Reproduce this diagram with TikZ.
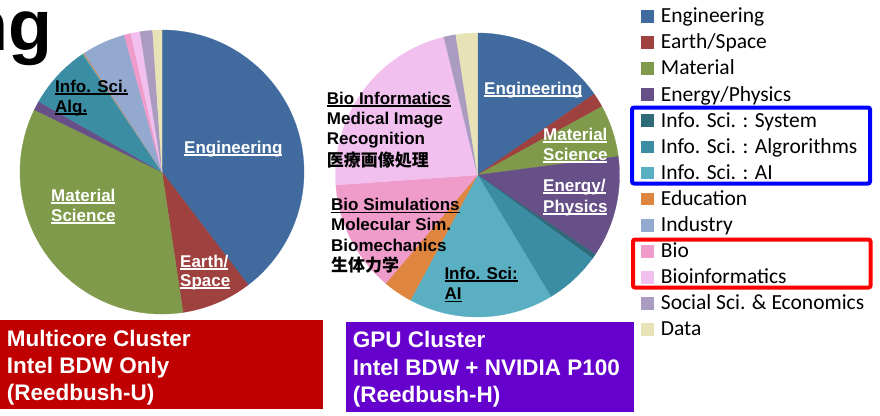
\documentclass[tikz,border=0pt]{standalone}
\usepackage{fontspec}
\setmainfont{Liberation Sans}
\newfontfamily\legendfont{Carlito}
\newfontfamily\cjkfont{Noto Sans CJK JP}

% slice colours
\definecolor{cEng}{HTML}{416B9E}
\definecolor{cEarth}{HTML}{9E413F}
\definecolor{cMat}{HTML}{809A4B}
\definecolor{cEnergy}{HTML}{674F87}
\definecolor{cSys}{HTML}{2E6A7A}
\definecolor{cAlg}{HTML}{3B8DA3}
\definecolor{cAI}{HTML}{5AAFC3}
\definecolor{cEdu}{HTML}{DE8540}
\definecolor{cInd}{HTML}{94A9D0}
\definecolor{cBio}{HTML}{F09CCB}
\definecolor{cBioinf}{HTML}{F1C0EF}
\definecolor{cSoc}{HTML}{A99CC0}
\definecolor{cData}{HTML}{E8E3B6}
\definecolor{boxred}{HTML}{C00000}
\definecolor{boxpurple}{HTML}{6600CC}

% wedge: centre x, centre y, from, to (degrees clockwise from 12 o'clock), colour
\newcommand{\drawwedge}[5]{%
  \fill[#5, draw=#5, line width=0.3pt] (#1,#2) -- ++({#3-90}:142)
    arc[start angle={#3-90}, end angle={#4-90}, radius=142] -- cycle;}

% underlined word with a solid bar just below the baseline
\newcommand{\ulword}[1]{\sbox0{#1}\rlap{\rule[-2.6pt]{\wd0}{1.4pt}}\usebox0}

\tikzset{
  lbl/.style={anchor=base west, inner sep=0pt, font=\fontsize{17}{20}\selectfont\bfseries},
  wlbl/.style={lbl, text=white},
  cjklbl/.style={anchor=base west, inner sep=0pt, font=\cjkfont\fontsize{17}{20}\selectfont\bfseries},
  legtxt/.style={anchor=base west, inner sep=0pt, font=\legendfont\fontsize{21.5}{24}\selectfont},
  boxtxt/.style={anchor=base west, inner sep=0pt, text=white, font=\fontsize{22.5}{27}\selectfont\bfseries},
  groupframe/.style={line width=4pt, rounded corners=2pt},
}

\begin{document}
\begin{tikzpicture}[x=1pt, y=-1pt]
\useasboundingbox (0,0) rectangle (880,415);

% title fragment
\node[anchor=base east, inner sep=0pt, font=\fontsize{72}{80}\selectfont\bfseries] (title) at (53,50) {ng};

% left pie (multicore cluster)
\drawwedge{162}{172}{0}{142.7}{cEng}
\drawwedge{162}{172}{142.7}{171.5}{cEarth}
\drawwedge{162}{172}{171.5}{296}{cMat}
\drawwedge{162}{172}{296}{299.8}{cEnergy}
\drawwedge{162}{172}{299.8}{326}{cAlg}
\drawwedge{162}{172}{326}{326.4}{cAI}
\drawwedge{162}{172}{326.4}{326.8}{cEdu}
\drawwedge{162}{172}{326.8}{344.6}{cInd}
\drawwedge{162}{172}{344.6}{347.3}{cBio}
\drawwedge{162}{172}{347.3}{351.1}{cBioinf}
\drawwedge{162}{172}{351.1}{356.2}{cSoc}
\drawwedge{162}{172}{356.2}{360}{cData}

% right pie (GPU cluster)
\drawwedge{477.5}{175}{0}{55.3}{cEng}
\drawwedge{477.5}{175}{55.3}{61.2}{cEarth}
\drawwedge{477.5}{175}{61.2}{82.5}{cMat}
\drawwedge{477.5}{175}{82.5}{124}{cEnergy}
\drawwedge{477.5}{175}{124}{126}{cSys}
\drawwedge{477.5}{175}{126}{148.9}{cAlg}
\drawwedge{477.5}{175}{148.9}{208.2}{cAI}
\drawwedge{477.5}{175}{208.2}{220.3}{cEdu}
\drawwedge{477.5}{175}{220.3}{266}{cBio}
\drawwedge{477.5}{175}{266}{346.3}{cBioinf}
\drawwedge{477.5}{175}{346.3}{351.2}{cSoc}
\drawwedge{477.5}{175}{351.2}{360}{cData}

% left pie labels
\node[wlbl] (lEng) at (184,153) {\ulword{Engineering}};
\node[wlbl] (lMat1) at (51,201) {\ulword{Material}};
\node[wlbl] (lMat2) at (51,221) {\ulword{Science}};
\node[wlbl] (lEarth1) at (180,267) {\ulword{Earth/}};
\node[wlbl] (lEarth2) at (180,286) {\ulword{Space}};
\node[lbl] (lAlg1) at (55,92) {\ulword{Info. Sci.}};
\node[lbl] (lAlg2) at (55,112) {\ulword{Alg.}};

% right pie labels
\node[wlbl] (rEng) at (484,94) {\ulword{Engineering}};
\node[wlbl] (rMat1) at (543,140) {\ulword{Material}};
\node[wlbl] (rMat2) at (543,160) {\ulword{Science}};
\node[wlbl] (rEn1) at (543,191) {\ulword{Energy/}};
\node[wlbl] (rEn2) at (543,212) {\ulword{Physics}};
\node[lbl] (rBi1) at (326.7,104) {\ulword{Bio Informatics}};
\node[lbl] (rBi2) at (326.7,124.3) {Medical Image};
\node[lbl] (rBi3) at (326.7,144) {Recognition};
\node[cjklbl] (rBi4) at (326.7,166) {医療画像処理};
\node[lbl] (rBs1) at (331,210.7) {\ulword{Bio Simulations}};
\node[lbl] (rBs2) at (331,230.7) {Molecular Sim.};
\node[lbl] (rBs3) at (331,251) {Biomechanics};
\node[cjklbl] (rBs4) at (331,271.7) {生体力学};
\node[lbl] (rAI1) at (444.3,279) {\ulword{Info. Sci:}};
\node[lbl] (rAI2) at (444.3,299.3) {\ulword{AI}};

% legend
\foreach \c/\t [count=\i from 0] in {cEng/Engineering, cEarth/{Earth/Space}, cMat/Material,
    cEnergy/{Energy/Physics}, cSys/{Info. Sci. : System}, cAlg/{Info. Sci. : Algrorithms},
    cAI/{Info. Sci. : AI}, cEdu/Education, cInd/Industry, cBio/Bio, cBioinf/Bioinformatics,
    cSoc/{Social Sci. \& Economics}, cData/Data}{
  \fill[\c] (641,{10+26.1*\i}) rectangle ++(12.7,12.7);
  \node[legtxt] (leg\i) at (660.7,{22.7+26.1*\i}) {\t};
}

% group frames in the legend
\draw[groupframe, blue] (632,107.5) rectangle (870,183.5);
\draw[groupframe, red] (633,239.5) rectangle (870.5,287.5);

% system boxes
\fill[boxred] (0,320) rectangle (322.7,409.3);
\node[boxtxt] (uA) at (6.7,346) {Multicore Cluster};
\node[boxtxt] (uB) at (6.7,373) {Intel BDW Only};
\node[boxtxt] (uC) at (6.7,400) {(Reedbush-U)};

\fill[boxpurple] (346,322.3) rectangle (634,411.7);
\node[boxtxt] (hA) at (352.7,347.3) {GPU Cluster};
\node[boxtxt] (hB) at (352.7,375) {Intel BDW + NVIDIA P100};
\node[boxtxt] (hC) at (352.7,402) {(Reedbush-H)};
\end{tikzpicture}
\end{document}
